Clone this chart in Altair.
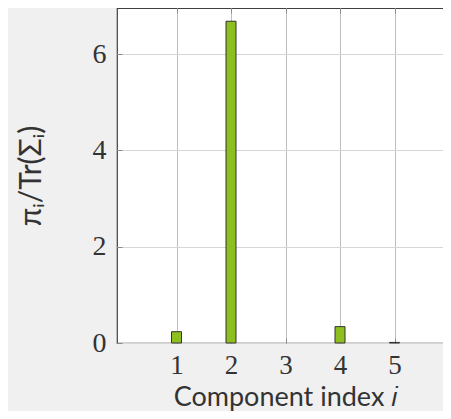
import altair as alt
import pandas as pd

components = [1, 2, 3, 4, 5]
ratios = [0.235, 6.685, None, 0.34, 0.012]

y_ticks = [0, 2, 4, 6]
x_ticks = [1, 2, 3, 4, 5, 6]

df = pd.DataFrame({"component": components, "ratio": ratios})

LABEL_FONT = "Liberation Serif"
TITLE_FONT = "Lato"

xscale = alt.Scale(domain=[0, 6], nice=False, zero=False)
yscale = alt.Scale(domain=[0, 6.96], nice=False)

bars = alt.Chart(df).mark_bar(
    size=10, color="#8dbf1e", stroke="#333333", strokeWidth=1
).encode(
    x=alt.X("component:Q", scale=xscale,
            axis=alt.Axis(values=x_ticks, title="Component index 𝑖",
                          orient="bottom", offset=-5, tickSize=5, domain=False,
                          grid=True, gridColor="#bdbdbd", tickColor="#8a8a8a",
                          labelFont=LABEL_FONT, labelFontSize=27, labelColor="#333333",
                          labelPadding=9, labelExpr="datum.value == 6 ? '' : datum.label",
                          titleFont=TITLE_FONT, titleFontSize=27, titleFontWeight="normal",
                          titleColor="#333333", titleBaseline="alphabetic", titleY=67)),
    y=alt.Y("ratio:Q", scale=yscale,
            axis=alt.Axis(values=y_ticks, title="πᵢ/Tr(Σᵢ)",
                          orient="left", offset=-5, tickSize=5, domain=False,
                          grid=True, gridColor="#d6d6d6", tickColor="#8a8a8a",
                          labelFont=LABEL_FONT, labelFontSize=28, labelColor="#333333",
                          labelPadding=11,
                          titleFont=TITLE_FONT, titleFontSize=30, titleFontWeight="normal",
                          titleColor="#333333", titlePadding=46)),
)

ticks_other = alt.Chart(df).mark_bar(opacity=0).encode(
    x=alt.X("component:Q", scale=xscale,
            axis=alt.Axis(values=x_ticks, orient="top", offset=-5, tickSize=5,
                          domain=False, labels=False, title=None, grid=False,
                          tickColor="#8a8a8a")),
    y=alt.Y("ratio:Q", scale=yscale,
            axis=alt.Axis(values=y_ticks, orient="right", offset=-5, tickSize=5,
                          domain=False, labels=False, title=None, grid=False,
                          tickColor="#8a8a8a")),
)

chart = alt.layer(bars, ticks_other).resolve_axis(
    x="independent", y="independent"
).properties(
    width=337, height=335,
    autosize=alt.AutoSizeParams(type="none"),
    padding={"left": 109, "top": 0, "right": -11, "bottom": 68},
    background="#f0f0f0",
).configure_view(
    stroke="#404040", strokeWidth=1.2, fill="white"
)

chart.save("out.html", embed_options={"renderer": "svg", "actions": False})
